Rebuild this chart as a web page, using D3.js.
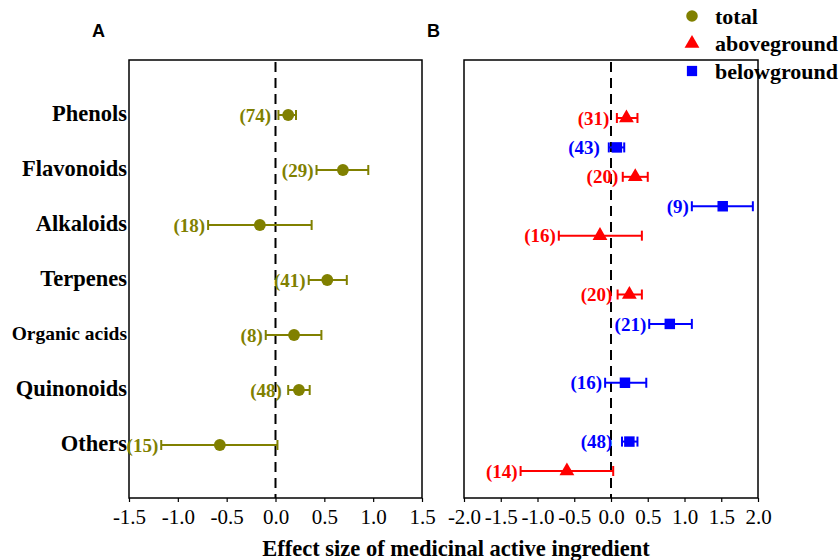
<!DOCTYPE html>
<html>
<head>
<meta charset="utf-8">
<script src="https://cdn.jsdelivr.net/npm/d3@7"></script>
<style>
  body { margin: 0; background: #fff; }
  text { font-family: "Liberation Serif", "Times New Roman", serif; }
</style>
</head>
<body>
<script>
var categories = ["Phenols", "Flavonoids", "Alkaloids", "Terpenes", "Organic acids", "Quinonoids", "Others"]

// panel A, total
var totalMean = [0.13, 0.69, -0.16, 0.53, 0.19, 0.24, -0.57]
var totalLow = [0.03, 0.42, -0.69, 0.34, -0.10, 0.13, -1.17]
var totalHigh = [0.21, 0.95, 0.37, 0.73, 0.47, 0.35, 0.02]
var totalN = [74, 29, 18, 41, 8, 48, 15]

// panel B row order (gaps are empty rows)
var bRows = ["Phenols above", "Phenols below", "Flavonoids above", "Flavonoids below",
  "Alkaloids above", "gap1", "Terpenes above", "Organic acids below", "gap2",
  "Quinonoids below", "gap3", "Others below", "Others above"]

var aboveRows = ["Phenols above", "Flavonoids above", "Alkaloids above", "Terpenes above", "Others above"]
var aboveMean = [0.21, 0.33, -0.15, 0.25, -0.60]
var aboveLow = [0.08, 0.16, -0.71, 0.09, -1.23]
var aboveHigh = [0.36, 0.50, 0.42, 0.42, 0.03]
var aboveN = [31, 20, 16, 20, 14]

var belowRows = ["Phenols below", "Flavonoids below", "Organic acids below", "Quinonoids below", "Others below"]
var belowMean = [0.08, 1.52, 0.80, 0.19, 0.25]
var belowLow = [-0.03, 1.10, 0.52, -0.08, 0.15]
var belowHigh = [0.18, 1.93, 1.10, 0.48, 0.36]
var belowN = [43, 9, 21, 16, 48]

var ticksA = [-1.5, -1.0, -0.5, 0.0, 0.5, 1.0, 1.5]
var ticksB = [-2.0, -1.5, -1.0, -0.5, 0.0, 0.5, 1.0, 1.5, 2.0]

var olive = "#808000", red = "#FF0000", blue = "#0000FF"

var svg = d3.select("body").append("svg")
  .attr("width", 840)
  .attr("height", 560)

var plotTop = 60, plotBottom = 498

function panel(x0, x1, domain, ticks, name) {
  var x = d3.scaleLinear().domain(domain).range([x0, x1])
  var g = svg.append("g")

  g.append("g")
    .attr("transform", "translate(0," + plotBottom + ")")
    .call(d3.axisBottom(x).tickValues(ticks).tickSizeInner(4).tickSizeOuter(0)
      .tickFormat(d => d.toFixed(1)))
    .call(a => a.select(".domain").remove())
    .call(a => a.selectAll("line").attr("stroke-width", 1.2))
    .call(a => a.selectAll("text")
      .attr("font-size", 21).attr("dy", "0.9em").attr("fill", "#000"))

  g.append("rect")
    .attr("x", x0).attr("y", plotTop)
    .attr("width", x1 - x0).attr("height", plotBottom - plotTop)
    .attr("fill", "none").attr("stroke", "#000").attr("stroke-width", 1.5)

  g.append("line")
    .attr("x1", x(0)).attr("x2", x(0))
    .attr("y1", plotTop + 2).attr("y2", plotBottom)
    .attr("stroke", "#000").attr("stroke-width", 2)
    .attr("stroke-dasharray", "10,6")

  g.append("text")
    .attr("x", x0 - 37).attr("y", 37)
    .style("font-family", "Liberation Sans, Arial, sans-serif")
    .attr("font-weight", "bold").attr("font-size", 18)
    .text(name)

  return {x: x, g: g}
}

function drawSeries(p, y, rows, mean, low, high, n, colour, shape) {
  var x = p.x
  var d = rows.map((r, i) => ({row: r, m: mean[i], lo: low[i], hi: high[i], n: n[i]}))
  var grp = p.g.selectAll(null).data(d).enter().append("g")
    .attr("transform", e => "translate(0," + y(e.row) + ")")

  grp.append("line")
    .attr("x1", e => x(e.lo)).attr("x2", e => x(e.hi))
    .attr("stroke", colour).attr("stroke-width", 2)
  grp.append("line")
    .attr("x1", e => x(e.lo)).attr("x2", e => x(e.lo))
    .attr("y1", -5).attr("y2", 5)
    .attr("stroke", colour).attr("stroke-width", 2)
  grp.append("line")
    .attr("x1", e => x(e.hi)).attr("x2", e => x(e.hi))
    .attr("y1", -5).attr("y2", 5)
    .attr("stroke", colour).attr("stroke-width", 2)

  grp.append("path")
    .attr("transform", e => "translate(" + x(e.m) + ",0)")
    .attr("d", d3.symbol().type(shape).size(shape === d3.symbolTriangle ? 95 : 110))
    .attr("fill", colour)

  grp.append("text")
    .attr("x", e => Math.min(x(e.lo) - 3, x(e.m) - 17))
    .attr("y", 0).attr("dy", "0.35em")
    .attr("text-anchor", "end")
    .attr("font-weight", "bold").attr("font-size", 19)
    .attr("fill", colour)
    .text(e => "(" + e.n + ")")
}

// panel A
var pA = panel(129, 422, [-1.5, 1.5], ticksA, "A")
var yA = d3.scalePoint().domain(categories).range([115, 445])

svg.append("g").selectAll("text")
  .data(categories).enter().append("text")
  .attr("x", 127)
  .attr("y", d => yA(d) - 2)
  .attr("dy", "0.35em")
  .attr("text-anchor", "end")
  .attr("font-weight", "bold")
  .attr("font-size", d => d === "Organic acids" ? 19.5 : 22.5)
  .text(d => d)

drawSeries(pA, yA, categories, totalMean, totalLow, totalHigh, totalN, olive, d3.symbolCircle)

// panel B
var pB = panel(464, 758, [-2, 2], ticksB, "B")
var yB = d3.scalePoint().domain(bRows).range([118, 471])

drawSeries(pB, yB, aboveRows, aboveMean, aboveLow, aboveHigh, aboveN, red, d3.symbolTriangle)
drawSeries(pB, yB, belowRows, belowMean, belowLow, belowHigh, belowN, blue, d3.symbolSquare)

// legend
var legend = [
  {name: "total", colour: olive, shape: d3.symbolCircle},
  {name: "aboveground", colour: red, shape: d3.symbolTriangle},
  {name: "belowground", colour: blue, shape: d3.symbolSquare}
]
var lg = svg.append("g").selectAll("g")
  .data(legend).enter().append("g")
  .attr("transform", (d, i) => "translate(692," + (16 + i * 27.5) + ")")
lg.append("path")
  .attr("d", d => d3.symbol().type(d.shape).size(d.shape === d3.symbolTriangle ? 95 : 105)())
  .attr("fill", d => d.colour)
lg.append("text")
  .attr("x", 23).attr("dy", "0.35em")
  .attr("font-weight", "bold").attr("font-size", 22)
  .text(d => d.name)

svg.append("text")
  .attr("x", 456).attr("y", 556)
  .attr("text-anchor", "middle")
  .attr("font-weight", "bold").attr("font-size", 22.5)
  .text("Effect size of medicinal active ingredient")
</script>
</body>
</html>
